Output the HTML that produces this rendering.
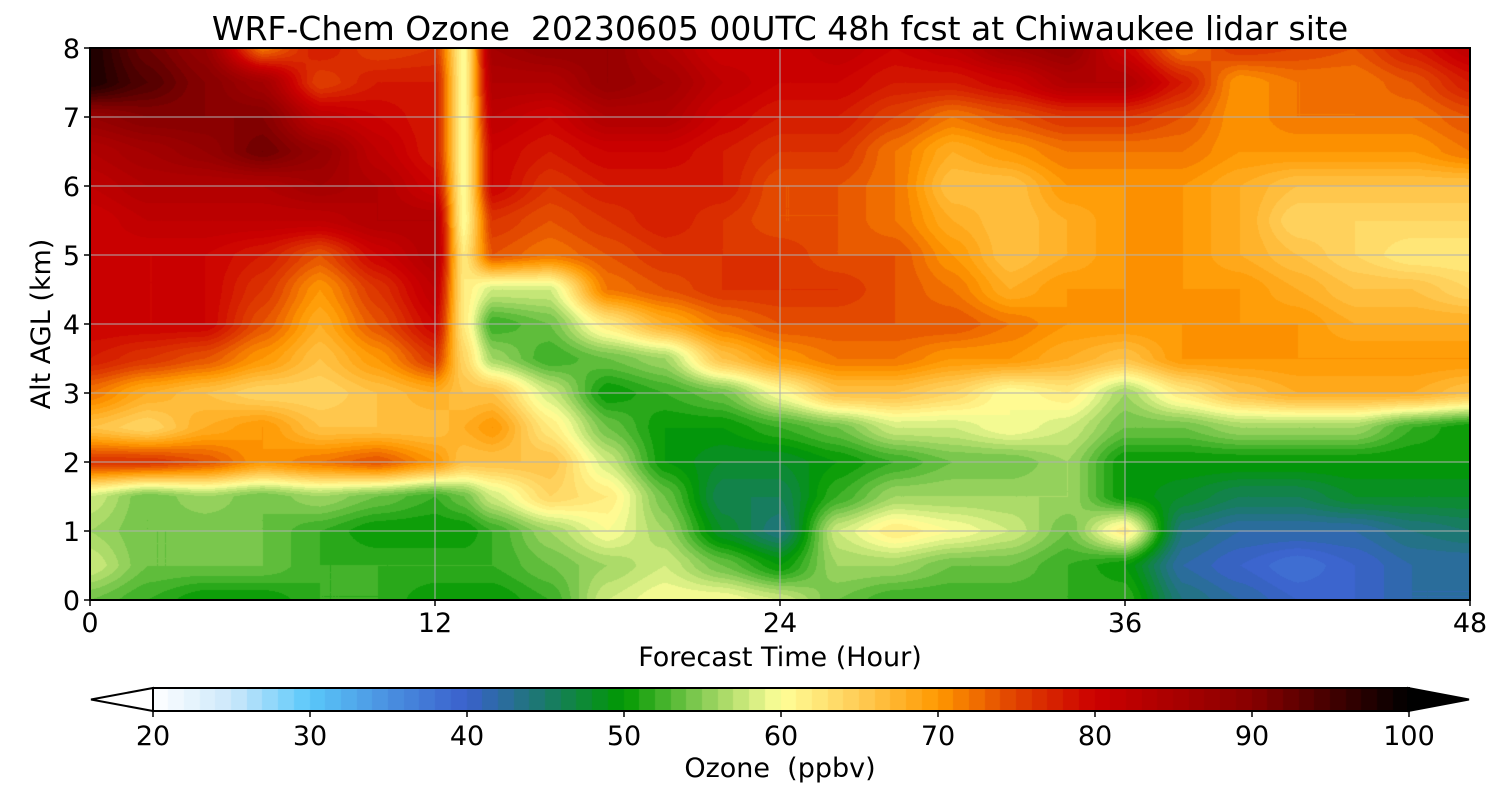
<!DOCTYPE html>
<html><head><meta charset="utf-8"><style>
body{margin:0;background:#fff;width:1500px;height:800px;overflow:hidden;font-family:"DejaVu Sans","Liberation Sans",sans-serif}
#wrap{position:relative;width:1500px;height:800px}
canvas{position:absolute}
svg{position:absolute;left:0;top:0;font-family:"DejaVu Sans","Liberation Sans",sans-serif}
</style></head><body>
<div id="wrap">
<canvas id="plot" width="1380" height="552" style="left:90px;top:48px"></canvas>
<canvas id="cbar" width="1256" height="23" style="left:153px;top:688px"></canvas>
<svg id="ov" width="1500" height="800"></svg>
</div>
<script>
const hours=[0,2,4,6,8,10,12,13,14,16,18,20,22,24,26,28,30,32,34,36,38,40,42,44,46,48];
const alts=[0,0.5,1,1.5,2,2.5,3,3.5,4,4.5,5,5.5,6,6.5,7,7.5,8];
const ozone=[
[54,52,50,50,52,52,50,50,50,52,58,60,60,58,54,52,52,52,52,52,44,42,40,40,42,42],
[58,54,54,54,52,52,52,52,52,54,56,58,54,50,56,56,54,54,52,50,42,40,38,40,42,42],
[56,54,54,54,52,50,50,50,52,56,60,56,48,44,58,62,60,58,54,62,44,42,42,42,44,45],
[58,54,56,54,56,54,52,54,58,64,62,54,46,46,52,56,56,56,56,50,48,46,46,48,48,48],
[76,76,74,70,72,74,70,66,66,66,58,50,48,48,50,52,54,54,56,50,50,50,50,50,50,50],
[66,64,68,70,66,66,66,68,70,62,54,50,50,52,54,58,58,60,58,54,54,56,56,56,52,50],
[72,68,66,64,64,66,68,66,66,58,50,52,54,60,66,66,64,60,62,56,62,66,68,68,68,66],
[78,76,74,70,66,70,76,64,56,52,54,56,66,70,72,72,70,70,68,66,70,70,70,70,70,70],
[80,80,80,74,68,74,80,62,52,54,62,68,72,74,74,74,74,72,70,70,70,70,70,68,68,68],
[80,80,80,76,70,76,82,62,58,58,72,74,76,76,76,74,72,68,70,70,70,70,68,66,66,64],
[80,80,80,78,74,80,84,62,74,72,74,76,76,76,74,74,70,66,68,70,70,68,66,64,62,62],
[80,82,82,82,82,84,84,60,76,74,76,78,76,74,74,72,68,66,68,70,70,68,64,64,64,64],
[82,84,84,84,86,84,80,60,80,76,78,78,78,74,74,72,66,66,70,70,70,68,66,66,66,66],
[84,86,88,92,88,82,78,60,80,78,80,80,78,76,76,72,68,70,72,72,72,70,70,70,70,72],
[88,90,90,90,82,80,78,60,82,80,84,84,80,78,78,75,72,74,76,76,74,70,72,72,72,74],
[98,94,90,86,75,78,78,60,84,84,88,86,82,80,80,78,78,80,84,84,78,70,72,72,74,78],
[98,92,88,72,78,75,76,60,86,88,88,84,80,80,82,80,82,86,88,80,72,76,75,74,78,82]];
const xTicks=[0,12,24,36,48];
const yTicks=[0,1,2,3,4,5,6,7,8];
const cbTicks=[20,30,40,50,60,70,80,90,100];
const anchorsV=[20,25,30,35,40,45,50,55,60,65,70,75,80,90,100];
const anchorsC=["#ffffff","#cce8fa","#5ac8fa","#4a90e0","#3a60cc","#1a7a6a","#009900","#88cc55","#ffff99","#ffcc55","#ff9900","#e04000","#cc0000","#880000","#000000"];
const X0=90,X1=1470,Y0=48,Y1=600;
const xs=h=>X0+(h-0)/(48-0)*(X1-X0);
const ys=a=>Y1-(a/8)*(Y1-Y0);
const cx=v=>153+(v-20)/80*1256;
function hex(c){return[parseInt(c.substr(1,2),16),parseInt(c.substr(3,2),16),parseInt(c.substr(5,2),16)];}
const AC=anchorsC.map(hex);
function cmap(v){v=Math.max(20,Math.min(100,Math.floor(v)+0.5));
 for(let i=0;i<anchorsV.length-1;i++){if(v<=anchorsV[i+1]){const t=(v-anchorsV[i])/(anchorsV[i+1]-anchorsV[i]);return AC[i].map((c,k)=>Math.round(c+(AC[i+1][k]-c)*t));}}
 return AC[AC.length-1];}
function interp(h,a){
 let i=0;while(i<hours.length-2&&h>hours[i+1])i++;
 let j=0;while(j<alts.length-2&&a>alts[j+1])j++;
 const tx=(h-hours[i])/(hours[i+1]-hours[i]),ty=(a-alts[j])/(alts[j+1]-alts[j]);
 const sx=tx*tx*(3-2*tx)*0.5+tx*0.5,sy=ty*ty*(3-2*ty)*0.5+ty*0.5;
 const v00=ozone[j][i],v10=ozone[j][i+1],v01=ozone[j+1][i],v11=ozone[j+1][i+1];
 return (v00*(1-sx)+v10*sx)*(1-sy)+(v01*(1-sx)+v11*sx)*sy;}
const cv=document.getElementById('plot'),ctx=cv.getContext('2d');
const W=cv.width,H=cv.height,img=ctx.createImageData(W,H);
for(let y=0;y<H;y++){const a=8*(1-(y+0.5)/H);for(let x=0;x<W;x++){const h=48*(x+0.5)/W;const c=cmap(interp(h,a));const p=(y*W+x)*4;img.data[p]=c[0];img.data[p+1]=c[1];img.data[p+2]=c[2];img.data[p+3]=255;}}
ctx.putImageData(img,0,0);
const cb=document.getElementById('cbar'),cctx=cb.getContext('2d');
for(let v=20;v<100;v++){const c=cmap(v);cctx.fillStyle=`rgb(${c[0]},${c[1]},${c[2]})`;cctx.fillRect(Math.floor(cx(v)-153),0,Math.ceil(1256/80)+1,23);}
const NS='http://www.w3.org/2000/svg',svg=document.getElementById('ov');
function el(t,at,txt){const e=document.createElementNS(NS,t);for(const k in at)e.setAttribute(k,at[k]);if(txt!==undefined)e.textContent=txt;svg.appendChild(e);return e;}
xTicks.forEach(h=>{const g=el('line',{x1:xs(h),x2:xs(h),y1:Y0,y2:Y1,stroke:'#b0b0b0','stroke-width':1});


const t=el('line',{x1:xs(h),x2:xs(h),y1:Y1,y2:Y1+6,stroke:'#000','stroke-width':1.5});


const l=el('text',{x:xs(h),y:Y1+32,'text-anchor':'middle','font-size':27},h);

});
yTicks.forEach(a=>{const g=el('line',{x1:X0,x2:X1,y1:ys(a),y2:ys(a),stroke:'#b0b0b0','stroke-width':1});


const t=el('line',{x1:X0-6,x2:X0,y1:ys(a),y2:ys(a),stroke:'#000','stroke-width':1.5});


const l=el('text',{x:X0-10,y:ys(a)+10,'text-anchor':'end','font-size':27},a);

});
const fr=el('rect',{x:X0,y:Y0,width:X1-X0,height:Y1-Y0,fill:'none',stroke:'#000','stroke-width':2});


const ti=el('text',{x:780,y:40,'text-anchor':'middle','font-size':33},'WRF-Chem Ozone  20230605 00UTC 48h fcst at Chiwaukee lidar site');


ti.style.whiteSpace='pre';
const xt=el('text',{x:780,y:666,'text-anchor':'middle','font-size':27},'Forecast Time (Hour)');


const yt=el('text',{x:50,y:324,'text-anchor':'middle','font-size':27,transform:'rotate(-90 50 324)'},'Alt AGL (km)');


const lt=el('polygon',{points:'153,688 153,711 91,699.5',fill:'#fff',stroke:'#000','stroke-width':2});


const rt=el('polygon',{points:'1408,688 1408,711 1469,699.5',fill:'#000',stroke:'#000','stroke-width':2});


const cfr=el('rect',{x:153,y:688,width:1256,height:23,fill:'none',stroke:'#000','stroke-width':2});


cbTicks.forEach(v=>{const t=el('line',{x1:cx(v),x2:cx(v),y1:711,y2:717,stroke:'#000','stroke-width':1.5});


const l=el('text',{x:cx(v),y:745,'text-anchor':'middle','font-size':27},v);

});
const ct=el('text',{x:780,y:777,'text-anchor':'middle','font-size':27},'Ozone  (ppbv)');


ct.style.whiteSpace='pre';
</script>
</body></html>
